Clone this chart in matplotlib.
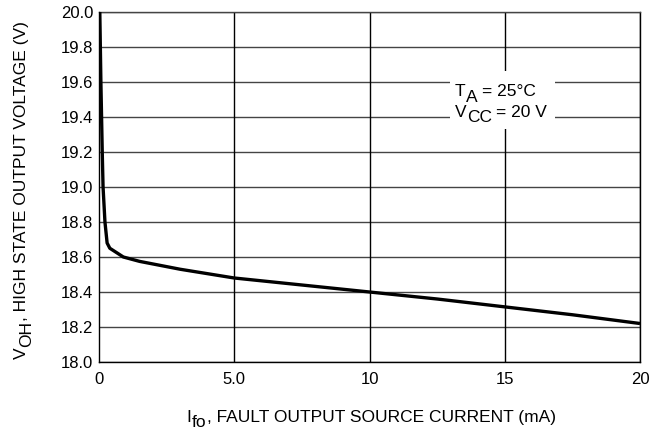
import matplotlib.pyplot as plt
from matplotlib.patches import Rectangle

plt.rcParams['font.family'] = ['Liberation Sans', 'DejaVu Sans']

# I_fo (mA) vs V_OH (V)
current = [0.03, 0.07, 0.12, 0.15, 0.22, 0.3, 0.4, 0.6, 0.9, 1.5, 2.0, 3.0,
           5.0, 7.5, 10.0, 12.5, 15.0, 17.5, 20.0]
voltage = [20.0, 19.6, 19.2, 19.0, 18.8, 18.68, 18.65, 18.63, 18.6, 18.575,
           18.56, 18.53, 18.48, 18.44, 18.40, 18.36, 18.315, 18.27, 18.22]

xticks = [0, 5, 10, 15, 20]
xticklabels = ['0', '5.0', '10', '15', '20']
yticks = [18.0, 18.2, 18.4, 18.6, 18.8, 19.0, 19.2, 19.4, 19.6, 19.8, 20.0]

W, H = 665, 433
FS = 12.5

fig = plt.figure(figsize=(W / 100, H / 100), dpi=100)
ax = fig.add_axes([99 / W, 71 / H, 541 / W, 350 / H])

# grid
for y in yticks:
    ax.axhline(y, color='#444444', lw=1.0, zorder=1)
for x in xticks[1:]:
    ax.axvline(x, color='black', lw=1.0, zorder=1)

ax.plot(current, voltage, color='black', lw=2.4, solid_capstyle='butt', zorder=3)

ax.set_xlim(0, 20)
ax.set_ylim(18.0, 20.0)
ax.set_xticks(xticks)
ax.set_xticklabels(xticklabels)
ax.set_yticks(yticks)
ax.set_yticklabels(['%.1f' % v for v in yticks])
ax.tick_params(length=0, labelsize=12)
ax.tick_params(axis='x', pad=7.5)
ax.tick_params(axis='y', pad=4.3)
for s in ax.spines.values():
    s.set_linewidth(1.0)
ax.spines['top'].set_color('#444444')

# white patch behind the conditions text
ax.add_patch(Rectangle((12.98, 19.33), 3.88, 0.335, facecolor='white',
                       edgecolor='none', zorder=2))

renderer = fig.canvas.get_renderer()


def rich_text(x, y, pieces, rotation=0, align='center'):
    # pieces: (text, shift down in px, gap before in px); positions in pixels
    widths = []
    for s, sh, gap in pieces:
        t = fig.text(0, 0, s, fontsize=FS)
        widths.append(t.get_window_extent(renderer).width + gap)
        t.remove()
    pos = -sum(widths) / 2 if align == 'center' else 0
    for (s, sh, gap), w in zip(pieces, widths):
        pos += gap
        if rotation == 0:
            fig.text((x + pos) / W, (H - y - sh) / H, s, fontsize=FS,
                     ha='left', va='baseline')
        else:
            fig.text((x + sh) / W, (H - y + pos) / H, s, fontsize=FS,
                     rotation=90, rotation_mode='anchor', ha='left', va='baseline')
        pos += w - gap


rich_text(371, 422, [('I', 0, 0), ('fo', 5, 0.5), (', FAULT OUTPUT SOURCE CURRENT (mA)', 0, 0)])
rich_text(26, 190, [('V', 0, 0), ('OH', 5, 0.5), (', HIGH STATE OUTPUT VOLTAGE (V)', 0, 0)],
          rotation=90)
rich_text(455, 96, [('T', 0, 0), ('A', 6, 0), ('= 25°C', 0, 4.5)], align='left')
rich_text(455, 117, [('V', 0, 0), ('CC', 5, 0), ('= 20 V', 0, 4.5)], align='left')

fig.savefig('out.png', dpi=100)
